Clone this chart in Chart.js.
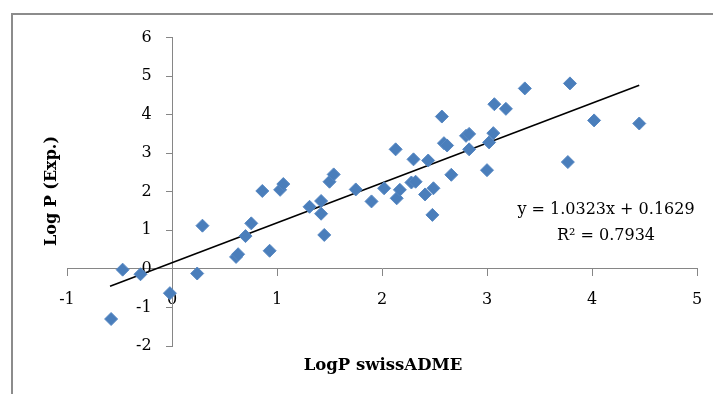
<!DOCTYPE html>
<html>
<head>
<meta charset="utf-8">
<script src="https://cdn.jsdelivr.net/npm/chart.js@4"></script>
<style>
  html, body { margin: 0; padding: 0; background: #fff; }
  #wrap { width: 713px; height: 394px; position: relative; }
</style>
</head>
<body>
<div id="wrap"><canvas id="chart1"></canvas></div>
<script>
// LogP swissADME (x) vs experimental Log P (y)
const logpSwiss = [-0.58, -0.47, -0.30, -0.02, 0.24, 0.29, 0.61, 0.63, 0.70, 0.755,
    0.86, 0.93, 1.03, 1.06, 1.31, 1.42, 1.42, 1.45, 1.50, 1.54,
    1.75, 1.90, 2.02, 2.13, 2.14, 2.17, 2.28, 2.32, 2.30, 2.41,
    2.44, 2.48, 2.49, 2.57, 2.59, 2.62, 2.66, 2.80, 2.83, 2.83,
    3.00, 3.02, 3.06, 3.07, 3.18, 3.36, 3.77, 3.79, 4.02, 4.45];
const logpExp = [-1.30, -0.02, -0.14, -0.63, -0.12, 1.12, 0.31, 0.38, 0.85, 1.18,
    2.02, 0.47, 2.05, 2.20, 1.61, 1.76, 1.43, 0.88, 2.26, 2.45,
    2.06, 1.75, 2.09, 3.10, 1.83, 2.05, 2.24, 2.26, 2.84, 1.93,
    2.81, 1.40, 2.09, 3.95, 3.26, 3.20, 2.44, 3.45, 3.50, 3.10,
    2.56, 3.28, 3.52, 4.27, 4.15, 4.68, 2.77, 4.81, 3.85, 3.77];

// linear trendline ends (as drawn)
const trendX = [-0.59, 4.45];
const trendY = [-0.45, 4.76];

const equationText = ['y = 1.0323x + 0.1629', 'R\u00B2 = 0.7934'];
const xTitle = 'LogP swissADME';
const yTitle = 'Log P (Exp.)';

const points = logpSwiss.map((x, i) => ({ x: x, y: logpExp[i] }));
const trend = trendX.map((x, i) => ({ x: x, y: trendY[i] }));

const axisGrey = '#868686';
const serif = '"DejaVu Serif", serif';

// frame + titles + equation
const textPlugin = {
    id: 'textPlugin',
    beforeDraw(chart) {
        const ctx = chart.ctx;
        ctx.save();
        ctx.strokeStyle = '#8c8c8c';
        ctx.lineWidth = 2;
        ctx.beginPath();
        ctx.moveTo(12, 400);
        ctx.lineTo(12, 14);
        ctx.lineTo(720, 14);
        ctx.stroke();
        ctx.restore();
    },
    afterDraw(chart) {
        const ctx = chart.ctx;
        ctx.save();
        ctx.fillStyle = '#000';
        ctx.textAlign = 'center';
        ctx.textBaseline = 'middle';
        ctx.font = 'bold 16.5px ' + serif;
        ctx.fillText(xTitle, 383, 366);
        ctx.save();
        ctx.translate(52, 191);
        ctx.rotate(-Math.PI / 2);
        ctx.font = 'bold 16px ' + serif;
        ctx.fillText(yTitle, 0, 0);
        ctx.restore();
        ctx.font = '16px ' + serif;
        ctx.fillText(equationText[0], 606, 210);
        ctx.fillText(equationText[1], 606, 236);
        ctx.restore();
    }
};

const chart1 = document.getElementById('chart1');

new Chart(chart1, {
    type: 'scatter',
    data: {
        datasets: [{
            label: 'LogP',
            data: points,
            pointStyle: 'rectRot',
            pointRadius: 6.5,
            pointHoverRadius: 6.5,
            backgroundColor: '#4A7EBB',
            borderColor: '#5687C2',
            borderWidth: 1
        }, {
            type: 'line',
            label: 'Linear',
            data: trend,
            borderColor: '#000',
            borderWidth: 1.6,
            pointRadius: 0,
            fill: false
        }]
    },
    options: {
        responsive: true,
        maintainAspectRatio: false,
        animation: false,
        events: [],
        layout: {
            padding: { left: 67, right: 16, top: 37.5, bottom: 48 }
        },
        plugins: {
            legend: { display: false },
            tooltip: { enabled: false }
        },
        scales: {
            x: {
                type: 'linear',
                min: -1,
                max: 5,
                position: { y: 0 },
                afterFit: (scale) => {
                    scale.height = 0;
                    scale.paddingLeft = 0;
                    scale.paddingRight = 0;
                },
                grid: { display: true, drawOnChartArea: false, drawTicks: true, tickLength: 7, color: axisGrey },
                border: { color: axisGrey, width: 1 },
                ticks: { stepSize: 1, padding: 14, color: '#000', font: { family: serif, size: 16 } }
            },
            y: {
                type: 'linear',
                min: -2,
                max: 6,
                position: { x: 0 },
                afterFit: (scale) => { scale.width = 0; },
                grid: { display: true, drawOnChartArea: false, drawTicks: true, tickLength: 6, color: axisGrey },
                border: { color: axisGrey, width: 1 },
                // labels of a y axis placed at x = 0 sit flush on the line, so pad them with spaces
                ticks: {
                    stepSize: 1, color: '#000', font: { family: serif, size: 16 },
                    callback: (v) => v + '    '
                }
            }
        }
    },
    plugins: [textPlugin]
});
</script>
</body>
</html>
